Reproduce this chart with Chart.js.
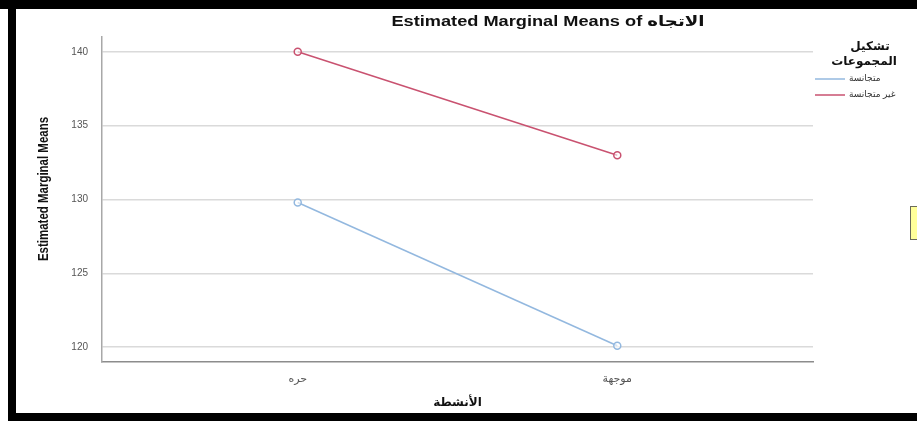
<!DOCTYPE html>
<html lang="ar">
<head>
  <meta charset="UTF-8">
  <title>Estimated Marginal Means</title>
  <style>
    html, body { margin: 0; padding: 0; background: #fff; }
    #frame { position: relative; width: 917px; height: 421px; overflow: hidden; background: #fff; }
    #frame canvas { position: absolute; left: 0; top: 0; }
    .bar { position: absolute; background: #000; }
    #tip { position: absolute; left: 910px; top: 206px; width: 12px; height: 32px;
           background: #ffff9a; border: 1px solid #6b6b5a; }
  </style>
</head>
<body>
  <div id="frame">
    <canvas id="emm" width="917" height="421"></canvas>
    <div class="bar" style="left:0;top:0;width:917px;height:9px"></div>
    <div class="bar" style="left:8px;top:0;width:8px;height:421px"></div>
    <div class="bar" style="left:8px;top:413px;width:909px;height:8px"></div>
    <div id="tip"></div>
  </div>

  <script src="https://cdn.jsdelivr.net/npm/chart.js"></script>
  <script>
    // data
    const categories = ['حره', 'موجهة'];          // الأنشطة
    const groupNames = ['متجانسة', 'غير متجانسة']; // تشكيل المجموعات
    const homogeneous = [129.8, 120.1];
    const heterogeneous = [140.0, 133.0];
    const yTickVals = [120, 125, 130, 135, 140];

    const FONT = 'Liberation Sans, Arial, DejaVu Sans, sans-serif';
    const BLUE = '#93b8df';
    const RED = '#c95270';

    const toPoints = (vals) => vals.map((v, i) => ({ x: i, y: v }));

    // title, y label and legend drawn at fixed spots like the SPSS output
    const spssExtras = {
      id: 'spssExtras',
      afterDraw(chart) {
        const ctx = chart.ctx;
        ctx.save();
        ctx.fillStyle = '#111';
        ctx.textBaseline = 'middle';
        ctx.textAlign = 'center';

        // main title (the SPSS export is stretched sideways)
        ctx.save();
        ctx.translate(548, 22);
        ctx.scale(1.3, 1);
        ctx.font = 'bold 14px ' + FONT;
        ctx.fillText('Estimated Marginal Means of الاتجاه', 0, 0);
        ctx.restore();

        // y axis title, condensed
        ctx.save();
        ctx.translate(44, 189);
        ctx.rotate(-Math.PI / 2);
        ctx.scale(0.82, 1);
        ctx.font = 'bold 14px ' + FONT;
        ctx.fillText('Estimated Marginal Means', 0, 0);
        ctx.restore();

        ctx.font = 'bold 12px ' + FONT;
        ctx.fillText('تشكيل', 870, 47);
        ctx.fillText('المجموعات', 864, 62);

        ctx.font = '9px ' + FONT;
        ctx.textAlign = 'left';
        chart.data.datasets.forEach((ds, i) => {
          const y = 79 + i * 16;
          ctx.strokeStyle = ds.borderColor;
          ctx.lineWidth = 1.5;
          ctx.beginPath();
          ctx.moveTo(815, y);
          ctx.lineTo(845, y);
          ctx.stroke();
          ctx.fillStyle = '#333';
          ctx.fillText(ds.label, 849, y);
        });
        ctx.restore();
      }
    };

    new Chart(document.getElementById('emm'), {
      type: 'line',
      data: {
        datasets: [
          {
            label: groupNames[0],
            data: toPoints(homogeneous),
            borderColor: BLUE,
            backgroundColor: 'rgba(255,255,255,0)',
            borderWidth: 1.5,
            pointRadius: 3.5,
            pointBorderWidth: 1.5,
            pointBackgroundColor: 'rgba(255,255,255,0.6)'
          },
          {
            label: groupNames[1],
            data: toPoints(heterogeneous),
            borderColor: RED,
            backgroundColor: 'rgba(255,255,255,0)',
            borderWidth: 1.5,
            pointRadius: 3.5,
            pointBorderWidth: 1.5,
            pointBackgroundColor: 'rgba(255,255,255,0.6)'
          }
        ]
      },
      options: {
        responsive: false,
        animation: false,
        layout: { padding: { left: 0, top: 37, right: 104, bottom: 0 } },
        plugins: {
          legend: { display: false },
          title: { display: false },
          tooltip: { enabled: false }
        },
        scales: {
          x: {
            type: 'linear',
            min: -0.6125,
            max: 1.6125,
            afterBuildTicks: (s) => { s.ticks = categories.map((c, i) => ({ value: i })); },
            afterFit: (s) => { s.height = 59; },
            grid: { display: false, drawTicks: false },
            border: { color: '#8c8c8c', width: 1.5 },
            ticks: {
              padding: 10,
              color: '#555',
              font: { family: FONT, size: 11 },
              callback: (v) => categories[v] ?? ''
            },
            title: {
              display: true,
              text: 'الأنشطة',
              color: '#111',
              font: { family: FONT, size: 12, weight: 'bold' },
              padding: { top: 0, bottom: 11 }
            }
          },
          y: {
            min: 119,
            max: 141,
            afterBuildTicks: (s) => { s.ticks = yTickVals.map(v => ({ value: v })); },
            afterFit: (s) => { s.width = 102; },
            grid: { color: '#dadada', lineWidth: 1.5, drawTicks: false },
            border: { color: '#a8a8a8', width: 1.5 },
            ticks: {
              padding: 14,
              color: '#555',
              font: { family: FONT, size: 10 }
            },
            title: { display: false }
          }
        }
      },
      plugins: [spssExtras]
    });
  </script>
</body>
</html>
